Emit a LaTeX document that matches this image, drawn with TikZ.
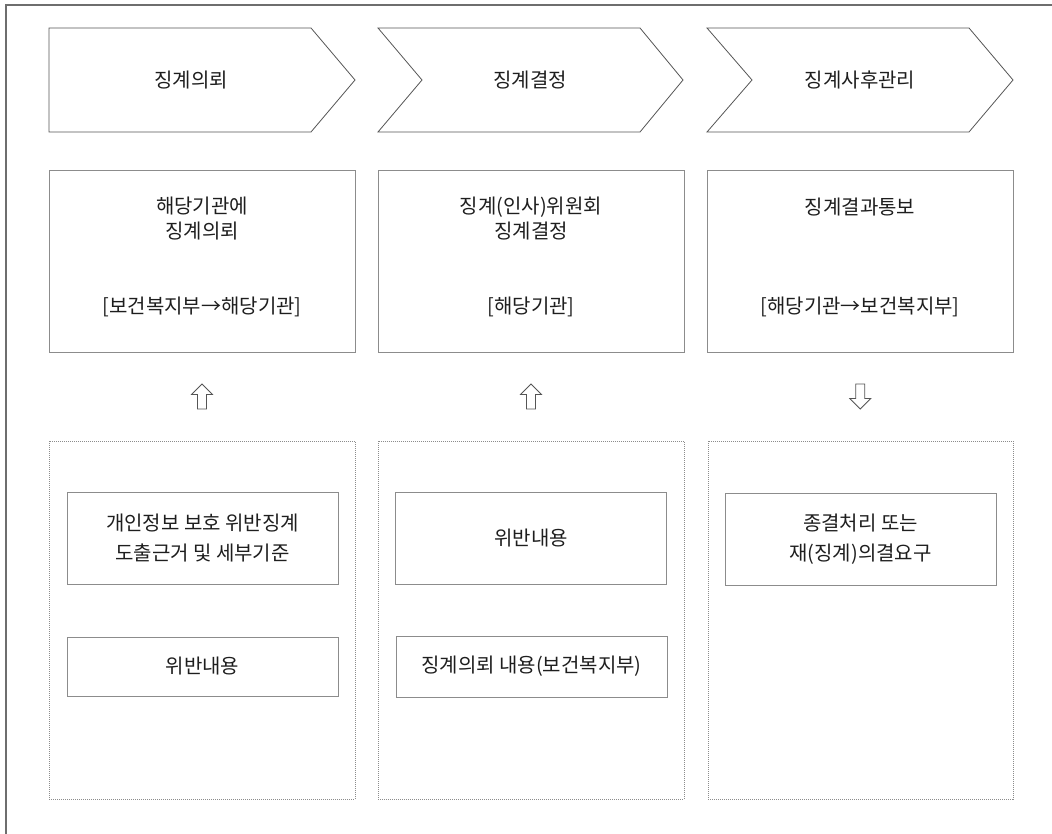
\documentclass[tikz,border=0pt]{standalone}
\usepackage{fontspec}
\setmainfont{Noto Sans CJK KR}
\usetikzlibrary{calc}
\definecolor{ln}{HTML}{8C8C8C}
\definecolor{chevln}{HTML}{555555}
\definecolor{framec}{HTML}{6E6E6E}
\definecolor{txt}{HTML}{1E1E1E}
\begin{document}
\begin{tikzpicture}[x=1pt,y=-1pt,
  every node/.style={text=txt, font=\fontsize{20}{30}\selectfont},
  chev/.style={draw=chevln, line width=0.8pt},
  bigbox/.style={draw=ln, line width=1pt, minimum width=306pt, minimum height=181pt, inner sep=0pt},
  dotbox/.style={draw=ln, line width=1pt, dash pattern=on 1pt off 1pt, minimum width=306pt, minimum height=358pt, inner sep=0pt},
  inbox/.style={draw=ln, line width=1pt, minimum width=271pt, inner sep=0pt, align=center},
  blk/.style={draw=chevln, line width=0.8pt, fill=white, line join=miter},
  lbl/.style={align=center, inner sep=0pt},
  tight/.style={font=\fontsize{20}{25}\selectfont}]
\useasboundingbox (0,0) rectangle (1052,834);
% outer frame
\draw[framec, line width=2.5pt] (6,836) -- (6,5) -- (1054,5);

% chevrons
\draw[chev] (49,28) -- (311,28) -- (355,80) -- (311,132) -- (49,132) -- cycle;
\draw[chev] (378,28) -- (640,28) -- (683,80) -- (640,132) -- (378,132) -- (422,80) -- cycle;
\draw[chev] (707,28) -- (969,28) -- (1013,80) -- (969,132) -- (707,132) -- (752,80) -- cycle;
\node[lbl] (c1) at (191,80) {징계의뢰};
\node[lbl] (c2) at (530,80) {징계결정};
\node[lbl] (c3) at (860,80) {징계사후관리};

% second row boxes
\node[bigbox] (b1) at (202,261.5) {};
\node[bigbox] (b2) at (531,261.5) {};
\node[bigbox] (b3) at (860,261.5) {};
\node[lbl, tight] (b1t) at (202,219) {해당기관에\\징계의뢰};
\node[lbl] (b1s) at (202,307) {[보건복지부→해당기관]};
\node[lbl, tight] (b2t) at (531,219) {징계(인사)위원회\\징계결정};
\node[lbl] (b2s) at (531,307) {[해당기관]};
\node[lbl] (b3t) at (860,207) {징계결과통보};
\node[lbl] (b3s) at (860,307) {[해당기관→보건복지부]};

% dotted boxes
\node[dotbox] (d1) at (202,620) {};
\node[dotbox] (d2) at (531,620) {};
\node[dotbox, minimum width=305pt] (d3) at (860.5,620) {};

% inner boxes
\node[inbox, minimum height=92pt] (i1) at (202.5,538) {개인정보 보호 위반징계\\도출근거 및 세부기준};
\node[inbox, minimum height=59pt] (i2) at (202.5,666.5) {위반내용};
\node[inbox, minimum height=92pt] (i3) at (531,538) {위반내용};
\node[inbox, minimum height=61pt] (i4) at (531.5,666.5) {징계의뢰 내용(보건복지부)};
\node[inbox, minimum height=92pt] (i5) at (860.5,539) {종결처리 또는\\재(징계)의결요구};

% block arrows between rows
\coordinate (m1) at ($(b1.south)!0.5!(d1.north)$);
\coordinate (m2) at ($(b2.south)!0.5!(d2.north)$);
\coordinate (m3) at ($(b3.south)!0.5!(d3.north)$);
\draw[blk] ([shift={(0,-12.5)}]m1) -- ++(10.5,10.5) -- ++(-6,0) -- ++(0,14.5) -- ++(-9,0) -- ++(0,-14.5) -- ++(-6,0) -- cycle;
\draw[blk] ([shift={(0,-12.5)}]m2) -- ++(10.5,10.5) -- ++(-6,0) -- ++(0,14.5) -- ++(-9,0) -- ++(0,-14.5) -- ++(-6,0) -- cycle;
\draw[blk] ([shift={(0,12.5)}]m3) -- ++(10.5,-10.5) -- ++(-6,0) -- ++(0,-14.5) -- ++(-9,0) -- ++(0,14.5) -- ++(-6,0) -- cycle;
\end{tikzpicture}
\end{document}
